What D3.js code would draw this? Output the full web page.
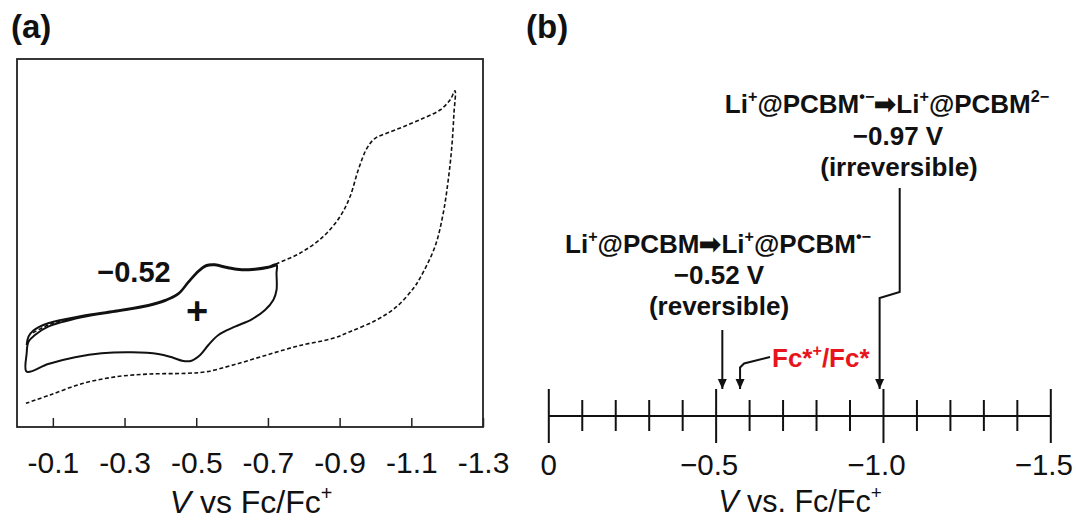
<!DOCTYPE html>
<html><head><meta charset="utf-8">
<script src="https://cdn.jsdelivr.net/npm/d3@7"></script>
<style>
body{margin:0;background:#fff}
svg{display:block}
text{font-family:"Liberation Sans",Arial,Helvetica,sans-serif}
</style>
</head><body>
<svg id="c" width="1076" height="520"></svg>
<script>
// ---------------- DATA ----------------
// Panel (a): cyclic voltammograms, potential (V vs Fc/Fc+) and current (arbitrary units)
const cvSolidV = [
  -0.027,-0.032,-0.045,-0.087,-0.180,-0.273,-0.366,-0.413,-0.450,-0.478,-0.506,-0.529,-0.552,-0.589,-0.627,-0.664,-0.701,-0.724,
  -0.724,-0.724,-0.715,-0.692,-0.655,-0.608,-0.562,-0.534,-0.511,-0.487,-0.464,-0.432,-0.394,-0.320,-0.236,-0.162,-0.087,-0.027,
  -0.027,-0.032,-0.050,-0.087,-0.180,-0.273,-0.366,-0.413,-0.450,-0.478,-0.506,-0.529,-0.552,-0.589,-0.627,-0.664,-0.701,-0.724
];
const cvSolidI = [
  22.28,24.54,26.17,28.18,30.16,31.60,33.15,34.51,36.33,39.48,42.47,44.02,44.21,43.40,42.85,43.02,43.56,44.21,
  41.77,37.23,34.51,31.79,29.27,27.26,25.00,22.28,19.57,18.02,17.93,18.94,19.84,20.30,20.03,18.94,17.12,15.03,
  20.03,23.18,25.00,27.26,29.81,31.33,32.88,34.24,36.06,39.21,42.20,43.75,43.94,43.13,42.58,42.74,43.29,43.94
];
const cvDashV = [
  -0.045,-0.087,-0.180,-0.273,-0.366,-0.413,-0.450,-0.478,-0.506,-0.529,-0.552,-0.589,-0.627,-0.664,-0.701,-0.724,
  -0.789,-0.854,-0.901,-0.929,-0.952,-0.976,-0.999,-1.031,-1.078,-1.133,-1.180,-1.208,-1.222,
  -1.219,-1.213,-1.203,-1.189,-1.166,-1.124,-1.106,-1.059,-1.003,-0.929,-0.882,-0.789,-0.697,-0.603,-0.529,-0.473,-0.371,-0.278,-0.185,-0.092,-0.025
];
const cvDashI = [
  25.6,27.7,30.0,31.45,33.0,34.4,36.2,39.35,42.35,43.9,44.1,43.3,42.7,42.9,43.4,44.4,
  47.20,51.71,57.15,62.58,69.84,75.73,78.45,79.81,81.60,83.89,86.14,88.86,91.39,
  85.24,76.17,67.12,58.07,48.99,40.41,37.69,32.69,29.08,25.90,24.10,22.15,19.57,16.85,15.03,14.59,14.40,13.67,11.88,8.70,6.44
];
const ticksA = [-0.1,-0.3,-0.5,-0.7,-0.9,-1.1,-1.3];
const tickLabelsA = ["-0.1","-0.3","-0.5","-0.7","-0.9","-1.1","-1.3"];
const peakLabelA = "\u22120.52";

// Panel (b): potential scale
const majorTicksB = [0,-0.5,-1.0,-1.5];
const tickLabelsB = ["0","\u22120.5","\u22121.0","\u22121.5"];
const minorTicksB = [-0.1,-0.2,-0.3,-0.4,-0.6,-0.7,-0.8,-0.9,-1.1,-1.2,-1.3,-1.4];
const arrowFirstB = -0.52;   // Li+@PCBM -> Li+@PCBM•−
const arrowFcB = -0.573;     // Fc*+/Fc*
const arrowSecondB = -0.99;  // Li+@PCBM•− -> Li+@PCBM2−
const arrowSecondKinkB = -1.05;

// ---------------- DRAW ----------------
const svg = d3.select("#c");
const FONT = '"Liberation Sans",Arial,Helvetica,sans-serif';

svg.append("defs").append("marker")
  .attr("id","ah").attr("markerUnits","userSpaceOnUse")
  .attr("markerWidth",10).attr("markerHeight",12)
  .attr("viewBox","0 0 10 12").attr("refX",10).attr("refY",6)
  .attr("orient","auto")
  .append("path").attr("d","M0,1.5 L10,6 L0,10.5 Z").attr("fill","#111");

function rich(g, x, y, segs, size, opts={}){
  const t = g.append("text").attr("x",x).attr("y",y)
    .attr("text-anchor",opts.anchor||"middle")
    .attr("font-size",size).attr("font-weight",opts.weight||"bold")
    .attr("fill",opts.fill||"#111");
  let shifted = 0;
  segs.forEach(s=>{
    const sup = !!s.sup;
    const target = sup ? -0.42*size : 0;
    const ts = t.append("tspan").text(s.t)
      .attr("dy", target - shifted)
      .attr("font-size", sup ? size*0.62 : size);
    if (s.italic) ts.attr("font-style","italic").attr("font-weight","normal");
    shifted = target;
  });
  return t;
}

// ---------- Panel (a) ----------
const xA = d3.scaleLinear().domain([0,-1.3]).range([17,483]);
const yA = d3.scaleLinear().domain([0,100]).range([427,59]);
const gA = svg.append("g");

gA.append("text").attr("x",11).attr("y",38).attr("font-size",33)
  .attr("font-weight","bold").attr("fill","#111").text("(a)");

gA.append("rect").attr("x",xA(0)).attr("y",yA(100))
  .attr("width",xA(-1.3)-xA(0)).attr("height",yA(0)-yA(100))
  .attr("fill","none").attr("stroke","#222").attr("stroke-width",1.8);

const axA = gA.append("g").attr("transform",`translate(0,${yA(0)})`)
  .call(d3.axisBottom(xA).tickValues(ticksA).tickSize(-9)
        .tickFormat((d,i)=>tickLabelsA[i]));
axA.select(".domain").remove();
axA.selectAll(".tick line").attr("stroke","#222").attr("stroke-width",1.5);
axA.selectAll(".tick text").attr("y",46).attr("dy",0)
  .attr("font-size",30).attr("font-family",FONT).attr("fill","#111");

rich(gA, 251, 513, [{t:"V",italic:true},{t:" vs Fc/Fc"},{t:"+",sup:true}], 32, {weight:"normal"});

const lineA = d3.line().x(d=>xA(d[0])).y(d=>yA(d[1])).curve(d3.curveCatmullRom.alpha(0.5));
gA.append("path").datum(cvDashV.map((v,i)=>[v,cvDashI[i]]))
  .attr("d",lineA).attr("fill","none").attr("stroke","#111")
  .attr("stroke-width",1.6).attr("stroke-dasharray","4,2.4");
gA.append("path").datum(cvSolidV.map((v,i)=>[v,cvSolidI[i]]))
  .attr("d",lineA).attr("fill","none").attr("stroke","#111")
  .attr("stroke-width",2);

gA.append("text").attr("x",134).attr("y",282).attr("text-anchor","middle")
  .attr("font-size",29).attr("font-weight","bold").attr("fill","#111").text(peakLabelA);
gA.append("text").attr("x",197).attr("y",324).attr("text-anchor","middle")
  .attr("font-size",38).attr("font-weight","bold").attr("fill","#111").text("+");

// ---------- Panel (b) ----------
const xB = d3.scaleLinear().domain([0,-1.5]).range([548.3,1050.3]);
const axisY = 416;
const gB = svg.append("g");

gB.append("text").attr("x",526).attr("y",38).attr("font-size",33)
  .attr("font-weight","bold").attr("fill","#111").text("(b)");

gB.append("line").attr("x1",xB(0)).attr("x2",xB(-1.5))
  .attr("y1",axisY).attr("y2",axisY).attr("stroke","#111").attr("stroke-width",2);

const major = gB.append("g").attr("transform",`translate(0,${axisY-27})`)
  .call(d3.axisBottom(xB).tickValues(majorTicksB).tickSize(54)
        .tickFormat((d,i)=>tickLabelsB[i]));
major.select(".domain").remove();
major.selectAll(".tick line").attr("stroke","#111").attr("stroke-width",2);
major.selectAll(".tick text").attr("y",86).attr("dy",0)
  .attr("x",d=>d===0?0:-7)
  .attr("font-size",29.5).attr("font-family",FONT).attr("fill","#111");

const minor = gB.append("g").attr("transform",`translate(0,${axisY-16})`)
  .call(d3.axisBottom(xB).tickValues(minorTicksB).tickSize(31).tickFormat(""));
minor.select(".domain").remove();
minor.selectAll(".tick line").attr("stroke","#111").attr("stroke-width",2);

rich(gB, 800, 512, [{t:"V",italic:true},{t:" vs. Fc/Fc"},{t:"+",sup:true}], 30.5, {weight:"normal"});

const tipY = axisY-27;
gB.append("path").attr("d",`M${xB(arrowFirstB)},330 L${xB(arrowFirstB)},${tipY}`)
  .attr("stroke","#111").attr("stroke-width",2).attr("fill","none").attr("marker-end","url(#ah)");
gB.append("path").attr("d",`M770,357 L${xB(arrowFcB)+4},363.5 L${xB(arrowFcB)},367.5 L${xB(arrowFcB)},${tipY}`)
  .attr("stroke","#111").attr("stroke-width",2).attr("fill","none").attr("marker-end","url(#ah)");
gB.append("path").attr("d",`M${xB(arrowSecondKinkB)},188 L${xB(arrowSecondKinkB)},292 L${xB(arrowSecondB)},298 L${xB(arrowSecondB)},${tipY}`)
  .attr("stroke","#111").attr("stroke-width",2).attr("fill","none").attr("marker-end","url(#ah)");

rich(gB, 887, 113, [{t:"Li"},{t:"+",sup:true},{t:"@PCBM"},{t:"\u2022\u2212",sup:true},{t:"\u27A1"},{t:"Li"},{t:"+",sup:true},{t:"@PCBM"},{t:"2\u2212",sup:true}], 26);
rich(gB, 898, 145, [{t:"\u22120.97 V"}], 26);
rich(gB, 899, 176, [{t:"(irreversible)"}], 26);

rich(gB, 718, 253, [{t:"Li"},{t:"+",sup:true},{t:"@PCBM"},{t:"\u27A1"},{t:"Li"},{t:"+",sup:true},{t:"@PCBM"},{t:"\u2022\u2212",sup:true}], 26);
rich(gB, 719, 284, [{t:"\u22120.52 V"}], 26);
rich(gB, 719, 315, [{t:"(reversible)"}], 26);

rich(gB, 772, 367, [{t:"Fc*"},{t:"+",sup:true},{t:"/Fc*"}], 26, {anchor:"start", fill:"#e8141c"});
</script>
</body></html>
